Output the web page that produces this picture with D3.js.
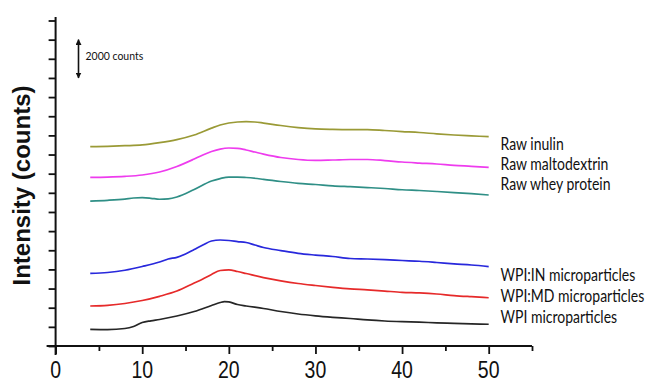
<!DOCTYPE html>
<html><head><meta charset="utf-8">
<script src="https://cdn.jsdelivr.net/npm/d3@7"></script>
<style>
html,body{margin:0;padding:0;background:#fff;}
svg{display:block;}
</style></head>
<body>
<svg id="chart" width="648" height="383"></svg>
<script>
// ---- data (2θ in degrees, intensity in counts, offset stacked as in the figure) ----
const seriesNames = ["Raw inulin","Raw maltodextrin","Raw whey protein","WPI:IN microparticles","WPI:MD microparticles","WPI microparticles"];
const seriesColors = ["#9a9a36","#ee3cee","#2f8f86","#2828dc","#e62a2a","#262626"];

const rawInulin = [[4,10410],[6,10430],[8,10460],[10,10500],[12,10620],[14,10780],[16,11020],[18,11380],[19,11540],[20,11645],[21,11700],[22,11715],[23,11700],[24,11645],[26,11515],[28,11410],[30,11340],[32,11315],[34,11305],[36,11305],[38,11255],[40,11200],[42,11150],[44,11080],[46,11020],[48,10975],[50,10930]];
const rawMaltodextrin = [[4,8810],[6,8825],[8,8860],[10,8930],[12,9085],[14,9375],[16,9765],[17,9975],[18,10155],[19,10285],[20,10340],[21,10325],[22,10235],[23,10130],[24,10025],[26,9845],[28,9740],[30,9695],[32,9715],[34,9740],[36,9740],[38,9685],[40,9610],[42,9555],[44,9505],[46,9435],[48,9385],[50,9330]];
const rawWhey = [[4,7570],[6,7610],[8,7675],[9,7730],[10,7745],[11,7715],[12,7665],[13,7685],[14,7780],[16,8170],[18,8615],[19,8745],[20,8825],[21,8825],[22,8800],[24,8705],[26,8590],[28,8495],[30,8435],[32,8365],[34,8320],[36,8275],[38,8225],[40,8160],[42,8120],[44,8070],[46,8015],[48,7955],[50,7885]];
const wpiIN = [[4,3795],[6,3840],[8,3955],[10,4150],[12,4385],[13,4545],[14,4630],[15,4805],[16,5040],[17,5275],[18,5485],[19,5535],[20,5510],[21,5455],[22,5405],[23,5275],[24,5145],[26,4985],[28,4840],[30,4750],[32,4675],[34,4570],[36,4545],[38,4510],[40,4465],[42,4425],[44,4360],[46,4290],[48,4230],[50,4150]];
const wpiMD = [[4,2090],[6,2125],[8,2220],[10,2375],[12,2595],[14,2870],[16,3290],[17,3500],[18,3735],[19,3945],[20,3980],[21,3890],[22,3785],[24,3575],[26,3405],[28,3265],[30,3160],[32,3065],[34,2985],[36,2935],[38,2870],[40,2805],[42,2770],[44,2715],[46,2635],[48,2575],[50,2520]];
const wpi = [[4,870],[6,860],[8,915],[9,1020],[10,1225],[11,1315],[12,1385],[14,1565],[16,1800],[18,2115],[19,2270],[19.5,2315],[20,2300],[21,2165],[22,2090],[24,1960],[26,1800],[28,1670],[30,1575],[32,1500],[34,1435],[36,1360],[38,1305],[40,1270],[42,1245],[44,1210],[46,1185],[48,1160],[50,1135]];
const seriesData = [rawInulin, rawMaltodextrin, rawWhey, wpiIN, wpiMD, wpi];

const xMajorTicks = [0,10,20,30,40,50];
const xMinorTicks = [5,15,25,35,45,55];
const yTicks = d3.range(0, 17001, 1000);
const yAxisTitle = "Intensity (counts)";
const scaleBarLabel = "2000 counts";
const scaleBar = [16000, 14000];

// ---- layout ----
const svg = d3.select("#chart");
const x = d3.scaleLinear().domain([0, 55]).range([55.6, 532]);
const y = d3.scaleLinear().domain([0, 17000]).range([346, 20.5]);

// curves
const line = d3.line().x(d => x(d[0])).y(d => y(d[1])).curve(d3.curveMonotoneX);
svg.append("g").selectAll("path").data(seriesData).join("path")
  .attr("d", line)
  .attr("fill", "none")
  .attr("stroke", (d,i) => seriesColors[i])
  .attr("stroke-width", 1.7)
  .attr("stroke-linejoin", "round");

// axes lines
svg.append("line").attr("x1", x(0)).attr("x2", x(0)).attr("y1", y(17000) - 3.5).attr("y2", y(0) + 9)
  .attr("stroke", "#111").attr("stroke-width", 2);
svg.append("line").attr("x1", x(0) - 9).attr("x2", x(55)).attr("y1", y(0)).attr("y2", y(0))
  .attr("stroke", "#111").attr("stroke-width", 2);

// x ticks
const gxMaj = svg.append("g").attr("transform", `translate(0,${y(0)})`)
  .call(d3.axisBottom(x).tickValues(xMajorTicks).tickSize(8).tickSizeOuter(0).tickFormat(""));
const gxMin = svg.append("g").attr("transform", `translate(0,${y(0)})`)
  .call(d3.axisBottom(x).tickValues(xMinorTicks).tickSize(5).tickSizeOuter(0).tickFormat(""));
[gxMaj, gxMin].forEach(g => { g.select(".domain").remove(); g.selectAll("line").attr("stroke", "#111").attr("stroke-width", 1.8); });

// y ticks
const gy = svg.append("g").attr("transform", `translate(${x(0)},0)`)
  .call(d3.axisLeft(y).tickValues(yTicks).tickSize(7).tickSizeOuter(0).tickFormat(""));
gy.select(".domain").remove();
gy.selectAll("line").attr("stroke", "#111").attr("stroke-width", 1.8);

// x tick labels
svg.append("g").selectAll("text").data(xMajorTicks).join("text")
  .attr("transform", d => `translate(${x(d)},377.5) scale(1,1.2)`)
  .attr("text-anchor", "middle")
  .attr("font-family", "Liberation Sans, Arial, sans-serif")
  .attr("font-size", 19.5)
  .attr("fill", "#111")
  .text(d => d);

// y axis title
svg.append("text")
  .attr("transform", `translate(30,185.5) rotate(-90)`)
  .attr("text-anchor", "middle")
  .attr("font-family", "Liberation Sans, Arial, sans-serif")
  .attr("font-weight", "bold")
  .attr("font-size", 24)
  .attr("fill", "#111")
  .text(yAxisTitle);

// series labels
const labelBaselines = [150, 170, 190, 281, 302, 323];
svg.append("g").selectAll("text").data(seriesNames).join("text")
  .attr("transform", (d,i) => `translate(500.5,${labelBaselines[i]}) scale(1,1.2)`)
  .attr("font-family", "Lato, 'Open Sans', sans-serif")
  .attr("font-size", 14)
  .attr("fill", "#111")
  .text(d => d);

// scale bar arrow
const defs = svg.append("defs");
defs.append("marker").attr("id", "ah").attr("viewBox", "0 0 10 10").attr("refX", 9).attr("refY", 5)
  .attr("markerWidth", 6).attr("markerHeight", 6).attr("orient", "auto-start-reverse")
  .attr("markerUnits", "userSpaceOnUse")
  .append("path").attr("d", "M0,0 L10,5 L0,10 Z").attr("fill", "#111");
svg.append("line").attr("x1", 78.5).attr("x2", 78.5)
  .attr("y1", y(scaleBar[0])).attr("y2", y(scaleBar[1]))
  .attr("stroke", "#111").attr("stroke-width", 1.6)
  .attr("marker-start", "url(#ah)").attr("marker-end", "url(#ah)");
svg.append("text")
  .attr("transform", `translate(85.5,60) scale(1,1.15)`)
  .attr("font-family", "Lato, 'Open Sans', sans-serif")
  .attr("font-size", 10.5)
  .attr("fill", "#111")
  .text(scaleBarLabel);
</script>
</body></html>
